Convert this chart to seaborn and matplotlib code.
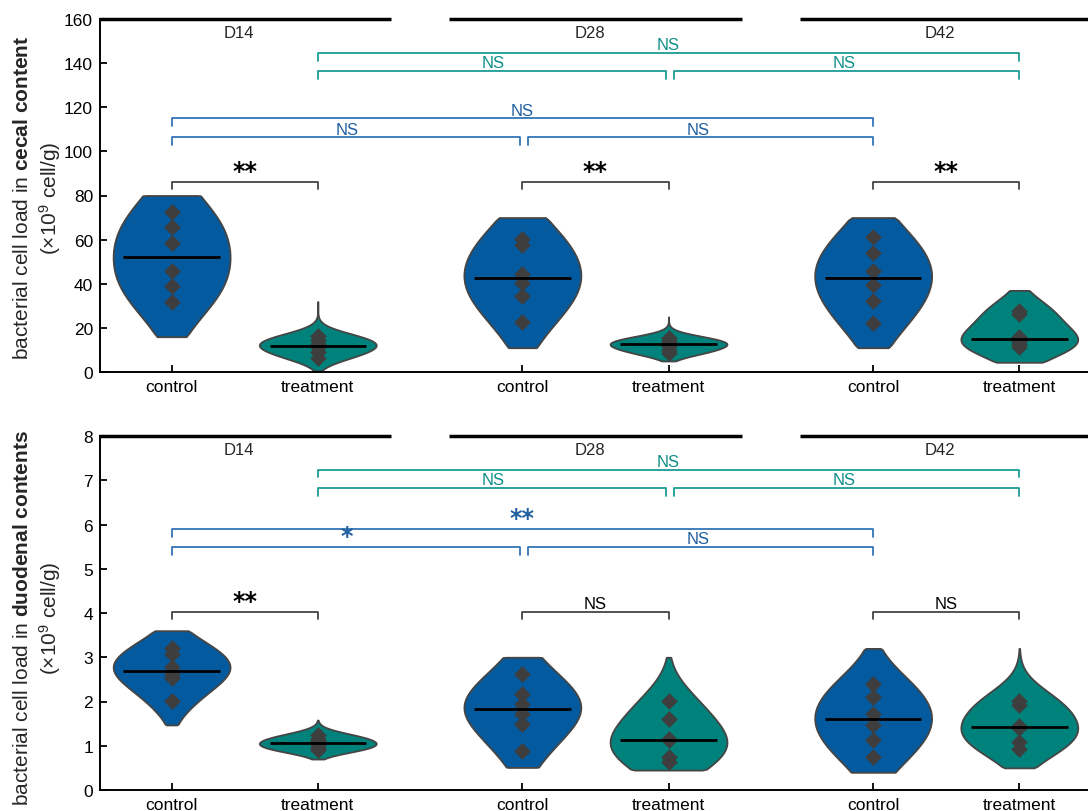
import numpy as np
import pandas as pd
import seaborn as sns
import matplotlib.pyplot as plt

# Dados (6 animais por grupo)
days = ["D14", "D28", "D42"]
groups = ["control", "treatment"]

cecal_d14_control = [72.4, 65.6, 58.3, 45.6, 39.1, 31.9]
cecal_d14_treatment = [16.5, 14.5, 12.5, 11.5, 9.0, 6.5]
cecal_d28_control = [60.3, 57.5, 44.5, 40.5, 34.6, 22.8]
cecal_d28_treatment = [15.5, 14.0, 13.0, 12.0, 10.0, 8.5]
cecal_d42_control = [61.0, 54.0, 46.0, 39.5, 32.3, 22.2]
cecal_d42_treatment = [27.8, 26.3, 16.0, 14.0, 12.5, 11.2]

duod_d14_control = [3.21, 3.08, 2.78, 2.62, 2.53, 2.02]
duod_d14_treatment = [1.25, 1.15, 1.10, 1.02, 0.95, 0.90]
duod_d28_control = [2.62, 2.17, 1.95, 1.72, 1.49, 0.89]
duod_d28_treatment = [2.02, 1.61, 1.15, 1.12, 0.74, 0.63]
duod_d42_control = [2.40, 2.10, 1.72, 1.48, 1.14, 0.74]
duod_d42_treatment = [2.02, 1.91, 1.44, 1.41, 1.08, 0.93]

# faixa desenhada de cada violino (control/treatment por dia)
cecal_violin_top = [80, 32, 70, 25, 70, 37]
cecal_violin_bottom = [16, 0.5, 11, 5, 11, 4.4]
duod_violin_top = [3.6, 1.58, 3.0, 3.0, 3.2, 3.2]
duod_violin_bottom = [1.47, 0.7, 0.51, 0.45, 0.4, 0.5]

# comparações: (índice1, índice2, altura, rótulo)
cecal_black = [(0, 1, 86.3, "**"), (2, 3, 86.3, "**"), (4, 5, 86.3, "**")]
cecal_blue = [(0, 2, 106.4, "NS"), (2, 4, 106.4, "NS"), (0, 4, 115.0, "NS")]
cecal_teal = [(1, 3, 136.4, "NS"), (3, 5, 136.4, "NS"), (1, 5, 144.7, "NS")]
duod_black = [(0, 1, 4.03, "**"), (2, 3, 4.03, "NS"), (4, 5, 4.03, "NS")]
duod_blue = [(0, 2, 5.49, "*"), (2, 4, 5.49, "NS"), (0, 4, 5.90, "**")]
duod_teal = [(1, 3, 6.83, "NS"), (3, 5, 6.83, "NS"), (1, 5, 7.24, "NS")]

# posições no eixo x
x_pos = [0, 1, 2.4, 3.4, 4.8, 5.8]

c_control = "#045a9e"
c_treat = "#00827c"
c_blue = "#3474b8"
c_teal = "#1c9c94"
c_blue_txt = "#1f5fa0"
c_teal_txt = "#0e8f88"

sns.set_theme(style="ticks")
plt.rcParams["font.family"] = ["Liberation Sans", "DejaVu Sans"]
plt.rcParams["mathtext.fontset"] = "custom"
plt.rcParams["mathtext.rm"] = "Liberation Sans"
plt.rcParams["mathtext.bf"] = "Liberation Sans:bold"
plt.rcParams["mathtext.it"] = "Liberation Sans:italic"


def monta_df(series):
    linhas = []
    for k, vals in enumerate(series):
        for v in vals:
            linhas.append({"pos": x_pos[k], "grupo": groups[k % 2], "valor": v})
    return pd.DataFrame(linhas)


def desenha_painel(ax, series, tops, bottoms, ymax, ystep, brackets):
    df = monta_df(series)
    sns.violinplot(data=df, x="pos", y="valor", hue="grupo", native_scale=True,
                   orient="x", palette={"control": c_control, "treatment": c_treat},
                   inner=None, density_norm="width", cut=6, bw_adjust=1.35,
                   linecolor="#454545", linewidth=1.3, saturation=1,
                   legend=False, ax=ax)
    # recorta cada violino na faixa
    for coll in ax.collections:
        for path in coll.get_paths():
            v = path.vertices
            k = int(np.argmin([abs(v[:, 0].mean() - p) for p in x_pos]))
            v[:, 1] = np.clip(v[:, 1], bottoms[k], tops[k])

    sns.stripplot(data=df, x="pos", y="valor", native_scale=True, orient="x",
                  jitter=False, marker="D", size=8.5, color="#3e3e3e",
                  linewidth=0, zorder=3, ax=ax)

    for k, vals in enumerate(series):
        ax.hlines(np.median(vals), x_pos[k] - 0.33, x_pos[k] + 0.33,
                  color="black", lw=2, zorder=4)

    ax.set_xlim(-0.49, 6.27)
    ax.set_ylim(0, ymax)
    ax.set_yticks(np.arange(0, ymax + ystep / 2, ystep))
    ax.set_xticks(x_pos)
    ax.set_xticklabels(groups * 3)
    ax.set_xlabel("")
    ax.set_ylabel("")
    ax.tick_params(direction="in", length=5, width=1.3, labelsize=12.5,
                   colors="black", pad=5)
    sns.despine(ax=ax, top=True, right=True)
    for s in ["left", "bottom"]:
        ax.spines[s].set_linewidth(1.4)
        ax.spines[s].set_color("black")

    # cabeçalhos dos dias
    for d, day in enumerate(days):
        c = (x_pos[2 * d] + x_pos[2 * d + 1]) / 2
        ax.plot([c - 1.0, min(c + 1.0, 6.27)], [ymax, ymax], color="black",
                lw=2.5, clip_on=False, solid_capstyle="butt")
        ax.annotate(day, xy=(c - 0.04, ymax), xytext=(0, -4),
                    textcoords="offset points", ha="center", va="top",
                    fontsize=12)

    leg = 0.022 * ymax
    for lista, cor, cor_txt in brackets:
        inicios = {(a, y) for a, b, y, t in lista}
        fins = {(b, y) for a, b, y, t in lista}
        for a, b, y, txt in lista:
            x1 = x_pos[a] + (0.04 if (a, y) in fins else 0)
            x2 = x_pos[b] - (0.015 if (b, y) in inicios else 0)
            ax.plot([x1, x1, x2, x2], [y - leg, y, y, y - leg], color=cor,
                    lw=1.3, clip_on=False)
            if "*" in txt:
                ax.annotate(txt, xy=((x_pos[a] + x_pos[b]) / 2, y), xytext=(0, -1),
                            textcoords="offset points", ha="center", va="bottom",
                            fontsize=17, fontweight="bold", color=cor_txt,
                            family="DejaVu Sans")
            else:
                ax.annotate(txt, xy=((x_pos[a] + x_pos[b]) / 2, y), xytext=(0, 0.5),
                            textcoords="offset points", ha="center", va="bottom",
                            fontsize=12, color=cor_txt)


fig = plt.figure(figsize=(10.88, 8.12), dpi=100)
ax1 = fig.add_axes([100 / 1088, 1 - 373 / 812, 988 / 1088, 353 / 812])
ax2 = fig.add_axes([100 / 1088, 1 - 791 / 812, 988 / 1088, 354 / 812])

desenha_painel(
    ax1,
    [cecal_d14_control, cecal_d14_treatment, cecal_d28_control,
     cecal_d28_treatment, cecal_d42_control, cecal_d42_treatment],
    cecal_violin_top, cecal_violin_bottom, 160, 20,
    [(cecal_black, "#444444", "black"), (cecal_blue, c_blue, c_blue_txt),
     (cecal_teal, c_teal, c_teal_txt)])

desenha_painel(
    ax2,
    [duod_d14_control, duod_d14_treatment, duod_d28_control,
     duod_d28_treatment, duod_d42_control, duod_d42_treatment],
    duod_violin_top, duod_violin_bottom, 8, 1,
    [(duod_black, "#444444", "black"), (duod_blue, c_blue, c_blue_txt),
     (duod_teal, c_teal, c_teal_txt)])

# rótulos do eixo y
fig.text(38 / 1088, 1 - 198 / 812,
         "bacterial cell load in $\\mathbf{cecal\\ content}$\n(×10$^{9}$ cell/g)",
         rotation=90, ha="center", va="center", fontsize=15, linespacing=1.25)
fig.text(38 / 1088, 1 - 618 / 812,
         "bacterial cell load in $\\mathbf{duodenal\\ contents}$\n(×10$^{9}$ cell/g)",
         rotation=90, ha="center", va="center", fontsize=15, linespacing=1.25)

plt.savefig("out.png", dpi=100)
